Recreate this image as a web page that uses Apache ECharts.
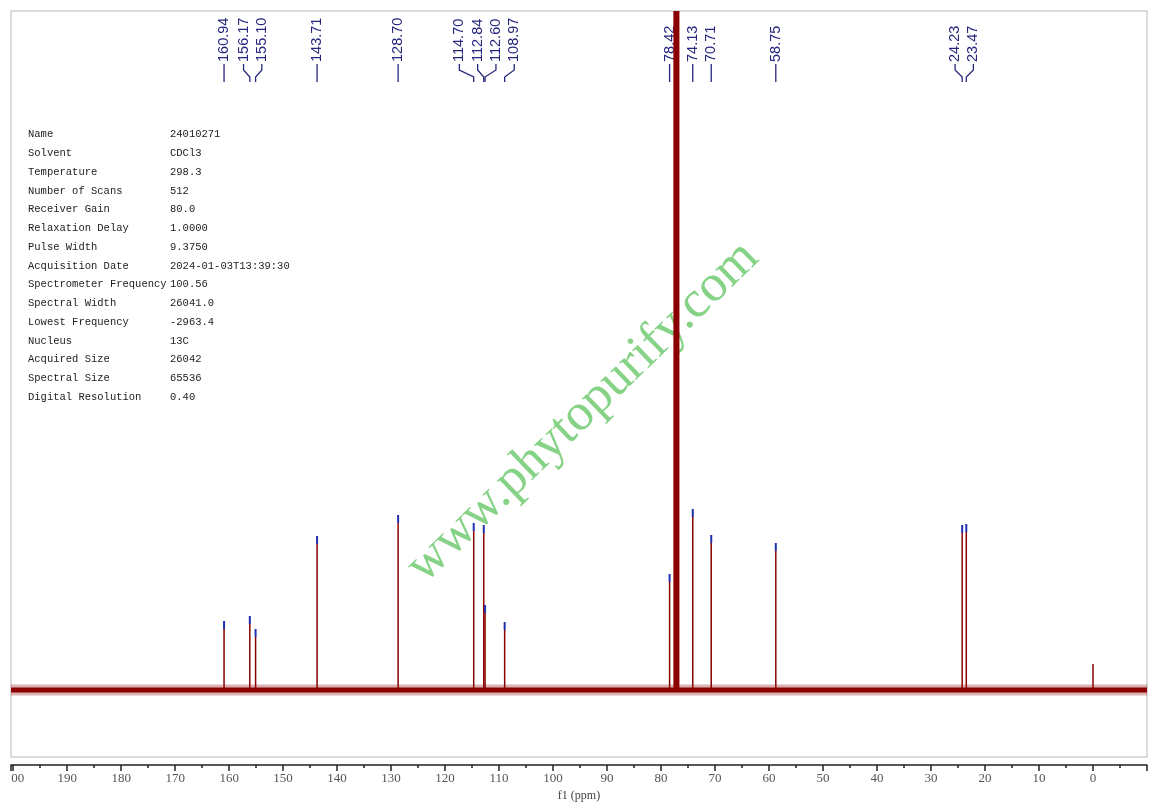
<!DOCTYPE html>
<html>
<head>
<meta charset="utf-8">
<script src="https://cdn.jsdelivr.net/npm/echarts@6/dist/echarts.min.js"></script>
<style>
html,body{margin:0;padding:0;background:#fff;}
#chart{width:1157px;height:808px;}
</style>
</head>
<body>
<div id="chart"></div>
<script>
// ---- data ----
const peakPpm = [160.94, 156.17, 155.10, 143.71, 128.70, 114.70, 112.84, 112.60, 108.97, 78.42, 74.13, 70.71, 58.75, 24.23, 23.47];
const peakHeight = [61, 66, 53, 146, 167, 159, 157, 77, 60, 108, 173, 147, 139, 157, 158];
const peakLabels = ['160.94', '156.17', '155.10', '143.71', '128.70', '114.70', '112.84', '112.60', '108.97', '78.42', '74.13', '70.71', '58.75', '24.23', '23.47'];
const solventPpm = [77.48, 77.16, 76.84];
const solventHeight = [679, 679, 679];
const refPpm = [0.00];
const refHeight = [26];
const xTicks = [200, 190, 180, 170, 160, 150, 140, 130, 120, 110, 100, 90, 80, 70, 60, 50, 40, 30, 20, 10, 0];
const paramNames = ['Name', 'Solvent', 'Temperature', 'Number of Scans', 'Receiver Gain', 'Relaxation Delay', 'Pulse Width', 'Acquisition Date', 'Spectrometer Frequency', 'Spectral Width', 'Lowest Frequency', 'Nucleus', 'Acquired Size', 'Spectral Size', 'Digital Resolution'];
const paramValues = ['24010271', 'CDCl3', '298.3', '512', '80.0', '1.0000', '9.3750', '2024-01-03T13:39:30', '100.56', '26041.0', '-2963.4', '13C', '26042', '65536', '0.40'];
const watermark = 'www.phytopurify.com';
const xMin = -10, xMax = 200.4, yMin = -67, yMax = 679;

// ---- label de-overlap (in ppm units) ----
function spreadLabels(vals, gap) {
  let groups = vals.map((v, i) => ({ idx: [i], c: v }));
  let merged = true;
  while (merged) {
    merged = false;
    for (let g = 0; g < groups.length - 1; g++) {
      const A = groups[g], B = groups[g + 1];
      const aLast = A.c - (A.idx.length - 1) / 2 * gap;
      const bFirst = B.c + (B.idx.length - 1) / 2 * gap;
      if (aLast - bFirst < gap) {
        const idx = A.idx.concat(B.idx);
        const c = idx.reduce((s, i) => s + vals[i], 0) / idx.length;
        groups.splice(g, 2, { idx: idx, c: c });
        merged = true;
        break;
      }
    }
  }
  const out = [];
  groups.forEach(G => G.idx.forEach((i, k) => { out[i] = G.c - (k - (G.idx.length - 1) / 2) * gap; }));
  return out;
}
const labelPos = spreadLabels(peakPpm, 3.39);

const RED = '#8b0000';
const BLUE = '#2030b0';
const NAVY = '#26267e';

const chart = echarts.init(document.getElementById('chart'), null, { renderer: 'canvas' });

function stickItem(params, api) {
  const p0 = api.coord([api.value(0), 0]);
  const p1 = api.coord([api.value(0), api.value(1)]);
  return { type: 'line', shape: { x1: p0[0], y1: p0[1], x2: p1[0], y2: p1[1] }, style: { stroke: RED, lineWidth: params.seriesName === 'solvent' ? 2.6 : 1.5 } };
}

const graphics = [];
paramNames.forEach((n, i) => {
  graphics.push({ type: 'text', left: 28, top: 129 + i * 18.75, style: { text: n, font: '10.5px "Liberation Mono"', fill: '#222' }, z: 10 });
  graphics.push({ type: 'text', left: 170, top: 129 + i * 18.75, style: { text: paramValues[i], font: '10.5px "Liberation Mono"', fill: '#222' }, z: 10 });
});
graphics.push({
  type: 'text', x: 583, y: 412, rotation: 44 * Math.PI / 180,
  style: { text: watermark, font: '52px "Liberation Serif"', fill: '#80d080', align: 'center', verticalAlign: 'middle', opacity: 0.95 },
  z: 5
});

const option = {
  animation: false,
  backgroundColor: '#fff',
  grid: { left: 11, right: 10, top: 11, bottom: 51, show: true, borderColor: '#d0d0d0', borderWidth: 1.5, backgroundColor: 'transparent' },
  xAxis: {
    type: 'value', inverse: true, min: xMin, max: xMax, interval: 10,
    offset: 8,
    name: 'f1 (ppm)', nameLocation: 'middle', nameGap: 22,
    nameTextStyle: { fontFamily: 'Liberation Serif', fontSize: 12, color: '#444' },
    axisLine: { show: true, onZero: false, lineStyle: { color: '#222', width: 1.5 } },
    axisTick: { show: true, inside: false, length: 6, lineStyle: { color: '#222', width: 1.5 } },
    minorTick: { show: true, splitNumber: 2, length: 3, lineStyle: { color: '#222', width: 1.5 } },
    splitLine: { show: false },
    axisLabel: {
      showMinLabel: false, showMaxLabel: false,
      margin: 7, fontFamily: 'Liberation Serif', fontSize: 13, color: '#555',
      formatter: function (v) {
        if (v < 0 || v > xTicks[0]) return '';
        return v === xTicks[0] ? '{c|' + String(v).slice(1) + '}' : String(v);
      },
      rich: { c: { fontFamily: 'Liberation Serif', fontSize: 13, color: '#555', padding: [0, 0, 0, 9] } }
    }
  },
  yAxis: { type: 'value', min: yMin, max: yMax, show: false, splitLine: { show: false } },
  graphic: graphics,
  series: [
    { name: 'baseline-soft', type: 'line', data: [[xMax, 0], [xMin, 0]], symbol: 'none', lineStyle: { color: RED, width: 11, opacity: 0.3 }, z: 2, silent: true },
    { name: 'baseline', type: 'line', data: [[xMax, 0], [xMin, 0]], symbol: 'none', lineStyle: { color: RED, width: 5 }, z: 2, silent: true },
    { name: 'peaks', type: 'custom', data: peakPpm.map((v, i) => [v, peakHeight[i]]), renderItem: stickItem, z: 3, clip: true },
    { name: 'ref', type: 'custom', data: refPpm.map((v, i) => [v, refHeight[i]]), renderItem: stickItem, z: 3, clip: true },
    { name: 'solvent', type: 'custom', data: solventPpm.map((v, i) => [v, solventHeight[i]]), renderItem: stickItem, z: 6, clip: true },
    {
      name: 'markers', type: 'custom', data: peakPpm.map((v, i) => [v, peakHeight[i]]), z: 4,
      renderItem: function (params, api) {
        const p = api.coord([api.value(0), api.value(1)]);
        return { type: 'rect', shape: { x: p[0] - 1, y: p[1] - 8, width: 2, height: 8 }, style: { fill: BLUE } };
      }
    },
    {
      name: 'labels', type: 'custom', data: peakPpm.map((v, i) => [v, labelPos[i]]), z: 4,
      renderItem: function (params, api) {
        const px = api.coord([api.value(0), 0])[0];
        const lx = api.coord([api.value(1), 0])[0];
        return {
          type: 'group',
          children: [
            { type: 'text', x: lx, y: 62, rotation: Math.PI / 2,
              style: { text: peakLabels[params.dataIndex], font: '14.5px "Liberation Sans"', fill: NAVY, align: 'left', verticalAlign: 'middle' } },
            { type: 'polyline', shape: { points: [[lx, 64], [lx, 70], [px, 77], [px, 82]] },
              style: { stroke: NAVY, lineWidth: 1.3, fill: null } }
          ]
        };
      }
    }
  ]
};
chart.setOption(option);
</script>
</body>
</html>
